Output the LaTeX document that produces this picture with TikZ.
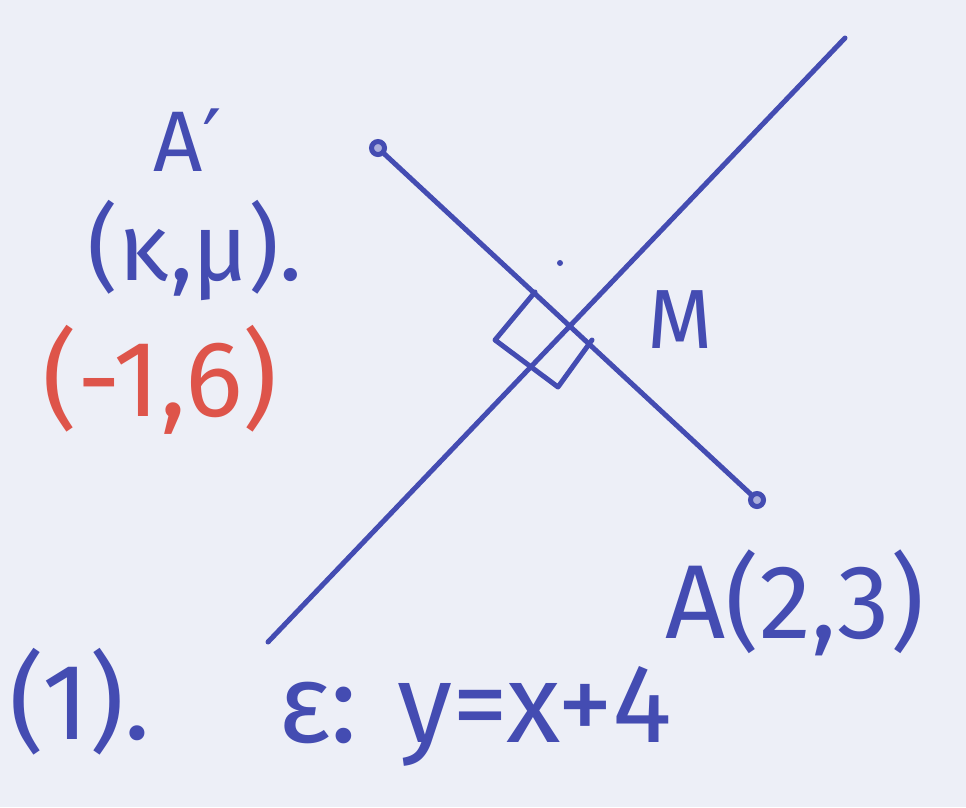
\documentclass[tikz,border=0pt]{standalone}
\usepackage{fontspec}
\setmainfont{Fira Sans}
\newfontfamily\dejavu{DejaVu Sans}
\definecolor{ink}{RGB}{68,76,178}
\definecolor{redink}{RGB}{222,84,74}
\definecolor{paper}{RGB}{237,239,247}
\begin{document}
\begin{tikzpicture}[x=1pt,y=-1pt,
  pen/.style={draw=ink,line width=5pt,line cap=round,line join=round},
  dotend/.style={circle,draw=ink,line width=5pt,fill=ink!45,inner sep=0pt,minimum size=13pt},
  lbl/.style={text=ink,inner sep=0pt},
  rlbl/.style={text=redink,inner sep=0pt}]
\fill[paper] (0,0) rectangle (966,807);
\useasboundingbox (0,0) rectangle (966,807);
\coordinate (e1) at (268,642);
\coordinate (e2) at (845,38);
\draw[pen] (e1) -- (e2);
\node[dotend] (Ap) at (378,148) {};
\node[dotend] (A) at (757,500) {};
\draw[pen] (Ap) -- (A);
\draw[pen] (535,292) -- (495,340) -- (558,387) -- (592,340);
\fill[ink] (560,263) circle (3pt);
\node[lbl,font=\fontsize{86}{86}\selectfont] (lAp) at (188,140) {A{\dejavu ′}};
\node[lbl,font=\fontsize{95}{95}\selectfont] (lkm) at (195,250) {(κ,μ).};
\node[rlbl,font=\fontsize{108}{108}\selectfont] (lred) at (160,380) {(-1,6)};
\node[lbl,font=\fontsize{84}{84}\selectfont] (lM) at (680,320) {M};
\node[lbl,font=\fontsize{105}{105}\selectfont] (lA) at (795,603) {A(2,3)};
\node[lbl,font=\fontsize{108}{108}\selectfont] (l1) at (80,702) {(1).};
\node[lbl,font=\fontsize{112}{112}\selectfont] (leq) at (475,716) {ε: y=x+4};
\end{tikzpicture}
\end{document}
